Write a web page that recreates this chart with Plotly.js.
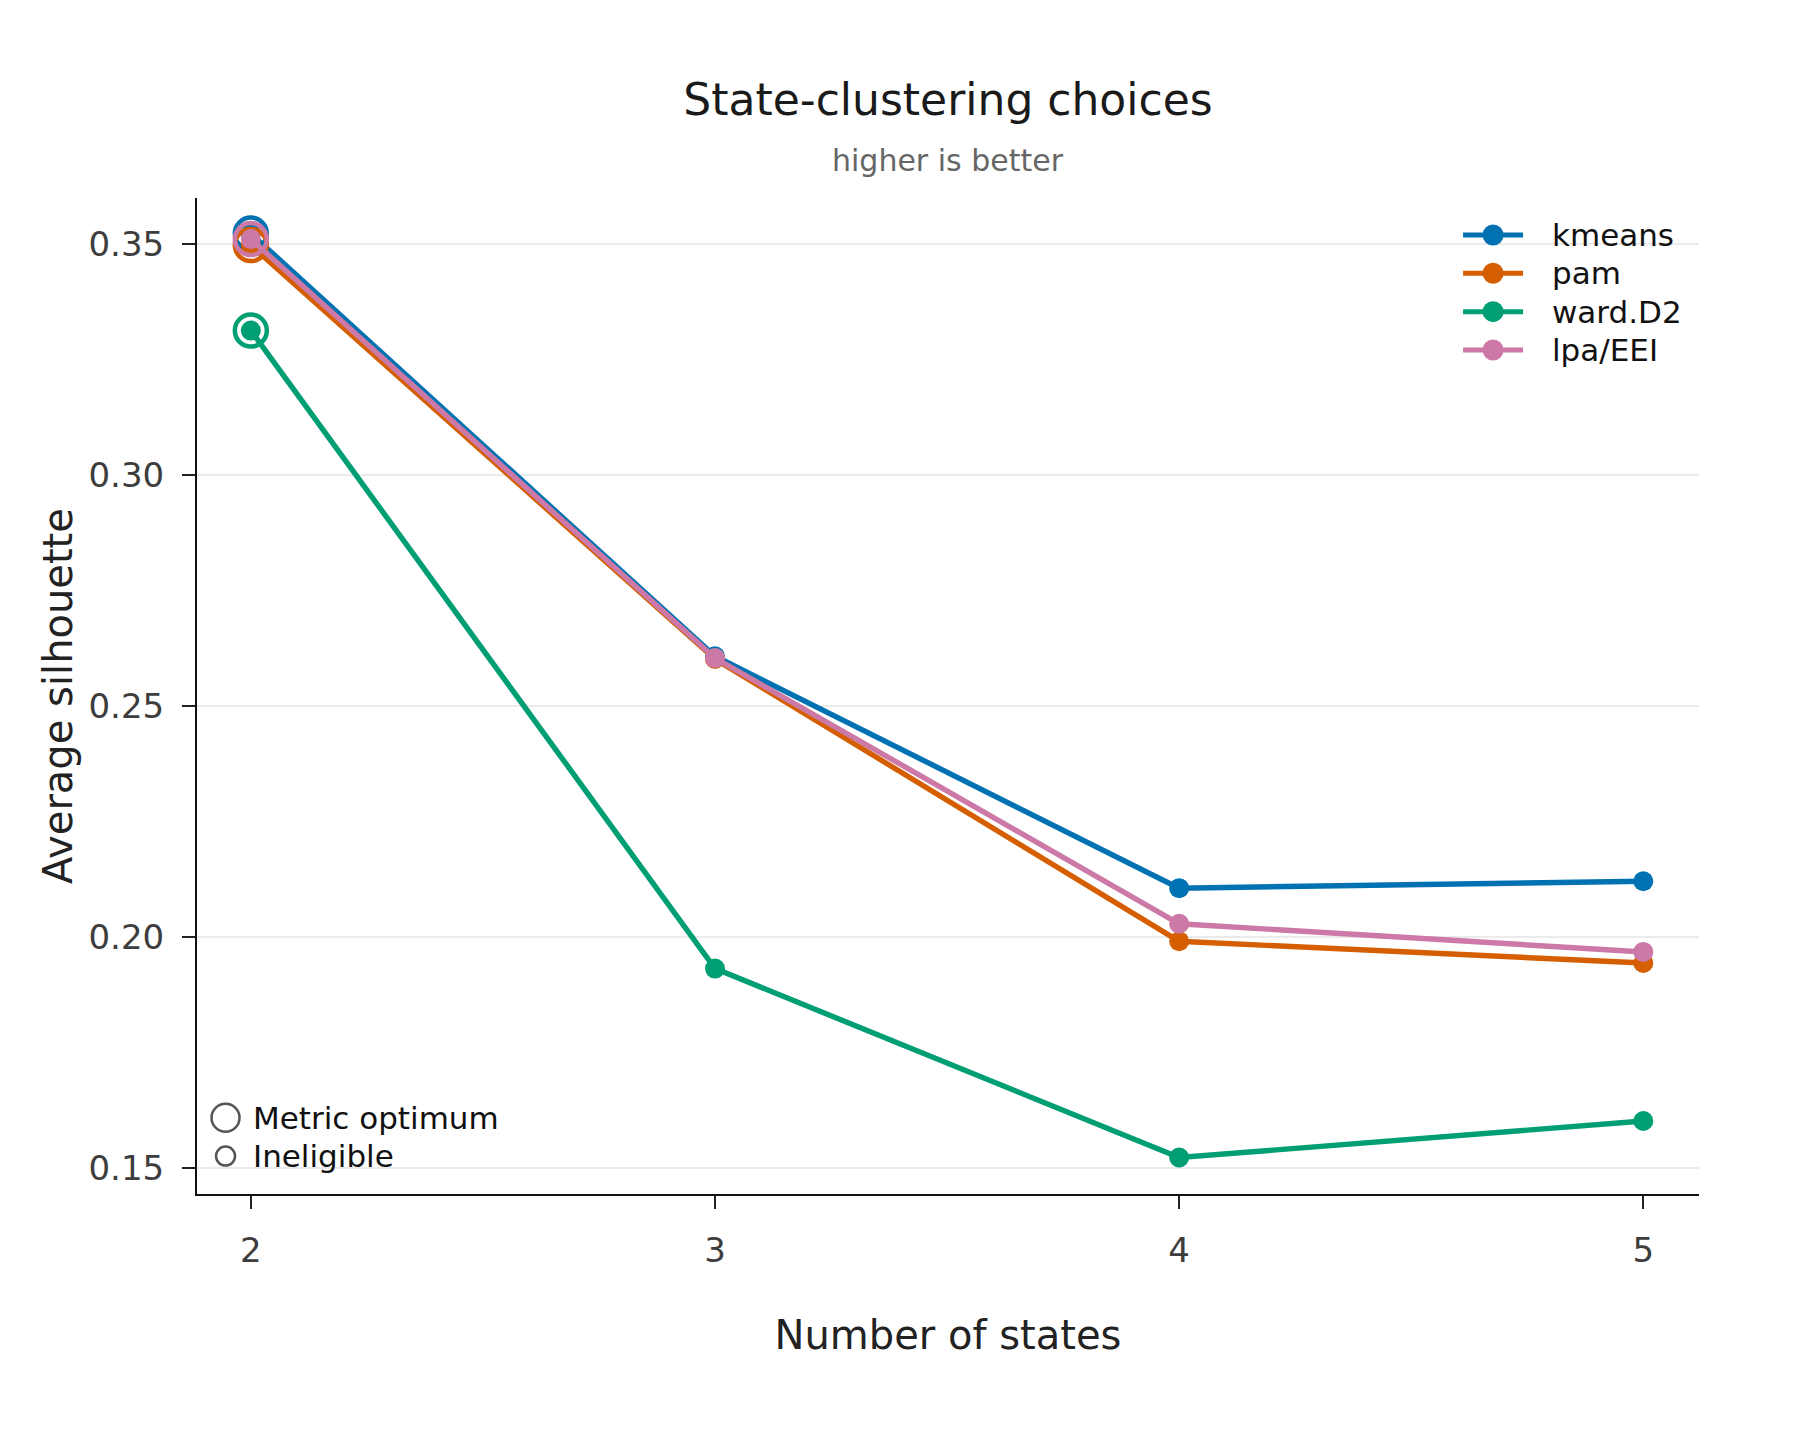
<!DOCTYPE html>
<html>
<head>
<meta charset="utf-8">
<script src="https://cdn.plot.ly/plotly-3.0.1.min.js"></script>
<style>
  html, body { margin: 0; padding: 0; background: #fff; }
  #chart { width: 1800px; height: 1440px; }
</style>
</head>
<body>
<div id="chart"></div>
<script>
// Average silhouette by number of states, per clustering method
const STATES = [2, 3, 4, 5];
const KMEANS = [0.3522, 0.2607, 0.2105, 0.2120];
const PAM = [0.3497, 0.2601, 0.1990, 0.1943];
const WARD_D2 = [0.3312, 0.1931, 0.1522, 0.1601];
const LPA_EEI = [0.3510, 0.2603, 0.2028, 0.1967];

const METHOD_NAMES = ["kmeans", "pam", "ward.D2", "lpa/EEI"];
const METHOD_VALUES = [KMEANS, PAM, WARD_D2, LPA_EEI];
const METHOD_COLORS = ["#0072B2", "#D55E00", "#009E73", "#CC79A7"];

const Y_TICKS = [0.15, 0.20, 0.25, 0.30, 0.35];
const X_TICKS = [2, 3, 4, 5];

const KEY_LABELS = ["Metric optimum", "Ineligible"];

const FONT = "DejaVu Sans, Verdana, sans-serif";

// ── Traces ──────────────────────────────────────────────────────────────────

function buildTraces() {
    const traces = [];
    METHOD_NAMES.forEach((name, i) => {
        const ys = METHOD_VALUES[i];
        traces.push({
            x: STATES, y: ys,
            type: "scatter", mode: "lines+markers",
            name: name,
            line: { color: METHOD_COLORS[i], width: 5.4 },
            marker: { color: METHOD_COLORS[i], size: 20 },
            hoverinfo: "skip", showlegend: false,
        });
        // ring around the best k for this method
        const best = ys.indexOf(Math.max(...ys));
        traces.push({
            x: [STATES[best]], y: [ys[best]],
            type: "scatter", mode: "markers",
            marker: { symbol: "circle-open", size: 32, color: METHOD_COLORS[i], line: { width: 4.5, color: METHOD_COLORS[i] } },
            showlegend: false, hoverinfo: "skip",
        });
    });
    return traces;
}

// ── Legends (drawn as paper shapes so the keys keep their size) ─────────────

function legendParts() {
    const shapes = [];
    const annotations = [];
    const top = 0.9629, step = 0.0385;
    METHOD_NAMES.forEach((name, i) => {
        const y = top - i * step;
        shapes.push({
            type: "line", xref: "paper", yref: "paper", xsizemode: "pixel", ysizemode: "pixel",
            xanchor: 0.8629, yanchor: y, x0: -30, x1: 30, y0: 0, y1: 0,
            line: { color: METHOD_COLORS[i], width: 5 },
        });
        shapes.push({
            type: "circle", xref: "paper", yref: "paper", xsizemode: "pixel", ysizemode: "pixel",
            xanchor: 0.8629, yanchor: y, x0: -10.5, x1: 10.5, y0: -10.5, y1: 10.5,
            fillcolor: METHOD_COLORS[i], line: { width: 0 },
        });
        annotations.push({
            text: name, xref: "paper", yref: "paper", x: 0.9005, y: y,
            xanchor: "left", yanchor: "middle", showarrow: false,
            font: { size: 31, color: "#111" },
        });
    });

    const keyY = [0.0766, 0.0381];
    const keyR = [14, 9.5];
    KEY_LABELS.forEach((label, i) => {
        shapes.push({
            type: "circle", xref: "paper", yref: "paper", xsizemode: "pixel", ysizemode: "pixel",
            xanchor: 0.019, yanchor: keyY[i], x0: -keyR[i], x1: keyR[i], y0: -keyR[i], y1: keyR[i],
            line: { color: "#555", width: 2.5 },
        });
        annotations.push({
            text: label, xref: "paper", yref: "paper", x: 0.0358, y: keyY[i],
            xanchor: "left", yanchor: "middle", showarrow: false,
            font: { size: 31, color: "#111" },
        });
    });
    return { shapes, annotations };
}

// ── Layout ──────────────────────────────────────────────────────────────────

const parts = legendParts();

const layout = {
    width: 1800, height: 1440,
    paper_bgcolor: "#fff", plot_bgcolor: "#fff",
    font: { family: FONT, color: "#222" },
    margin: { l: 197, r: 101, t: 198, b: 246 },
    title: {
        text: "State-clustering choices",
        font: { size: 44, color: "#1a1a1a", family: FONT },
        xref: "paper", x: 0.5, xanchor: "center",
        yref: "container", y: 1 - 100 / 1440, yanchor: "middle",
    },
    xaxis: {
        range: [1.884, 5.12],
        tickvals: X_TICKS,
        showgrid: false, zeroline: false,
        showline: true, linecolor: "#111", linewidth: 2,
        ticks: "outside", ticklen: 13, tickwidth: 2, tickcolor: "#222",
        ticklabelstandoff: 12,
        tickfont: { size: 34, color: "#3d3d3d" },
        title: { text: "Number of states", font: { size: 40, color: "#222" }, standoff: 52 },
    },
    yaxis: {
        range: [0.1443, 0.3599],
        tickvals: Y_TICKS, tickformat: ".2f",
        showgrid: true, gridcolor: "#ebebeb", gridwidth: 2,
        zeroline: false,
        showline: true, linecolor: "#111", linewidth: 2,
        ticks: "outside", ticklen: 13, tickwidth: 2, tickcolor: "#222",
        ticklabelstandoff: 11,
        tickfont: { size: 34, color: "#3d3d3d" },
        title: { text: "Average silhouette", font: { size: 40, color: "#222" }, standoff: 3 },
    },
    showlegend: false,
    shapes: parts.shapes,
    annotations: [
        { text: "higher is better", xref: "paper", yref: "paper", x: 0.5, y: 1.0376,
          xanchor: "center", yanchor: "middle", showarrow: false,
          font: { size: 30, color: "#666" } },
        ...parts.annotations,
    ],
};

Plotly.newPlot("chart", buildTraces(), layout, { displayModeBar: false, staticPlot: true });
</script>
</body>
</html>
